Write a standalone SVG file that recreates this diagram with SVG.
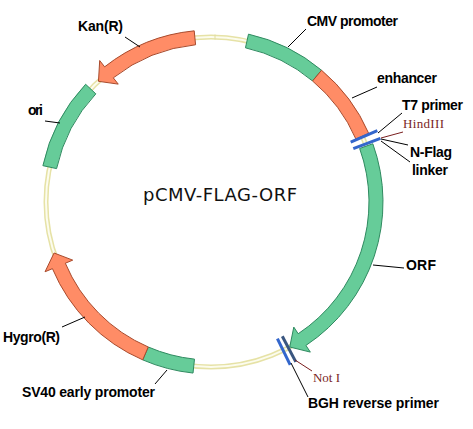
<svg xmlns="http://www.w3.org/2000/svg" width="473" height="429" viewBox="0 0 473 429">
<style>
.lbl{font-family:"Liberation Sans",Arial,sans-serif;font-size:14px;font-weight:bold;fill:#000}
.site{font-family:"Liberation Serif","Times New Roman",serif;font-size:13px;fill:#7a1f1f}
.title{font-family:"DejaVu Sans",Verdana,sans-serif;font-size:18px;fill:#111}
.green{fill:#66cc99;stroke:#2f8a60;stroke-width:1}
.orange{fill:#ff8c66;stroke:#a84a2c;stroke-width:1}
.lead{stroke:#000;stroke-width:1;fill:none}
.leadr{stroke:#7a1f1f;stroke-width:1;fill:none}
.bar{stroke:#3366cc;stroke-width:3;stroke-linecap:butt}
.bardark{stroke:#3a5680;stroke-width:3;stroke-linecap:butt}
</style>
<rect width="473" height="429" fill="#fff"/>
<g id="backbone">
<circle cx="211" cy="202" r="165" fill="none" stroke="#e6e2a6" stroke-width="5"/>
<circle cx="211" cy="202" r="165" fill="none" stroke="#fcfcee" stroke-width="2"/>
<line x1="215" y1="34.5" x2="215" y2="39.5" stroke="#e0dca0" stroke-width="1"/>
</g>
<g id="cmv-promoter">
<path class="green" d="M248.51 34.15 A172 172 0 0 1 321.56 70.24 L312.56 80.97 A158 158 0 0 0 245.46 47.81 Z"/>
</g>
<g id="enhancer">
<path class="orange" d="M321.56 70.24 A172 172 0 0 1 368.74 133.42 L355.90 139.00 A158 158 0 0 0 312.56 80.97 Z"/>
</g>
<g id="orf">
<path class="green" d="M372.83 143.74 A172 172 0 0 1 305.93 345.43 L310.34 352.10 L289.74 347.0 L293.79 327.09 L298.20 333.76 A158 158 0 0 0 359.66 148.49 Z"/>
</g>
<g id="sv40">
<path class="green" d="M193.02 373.05 A172 172 0 0 1 142.70 359.86 L148.26 347.01 A158 158 0 0 0 194.49 359.13 Z"/>
</g>
<g id="hygro">
<path class="orange" d="M142.70 359.86 A172 172 0 0 1 52.43 268.65 L45.06 271.75 L54.07 252.99 L72.71 260.13 L65.34 263.23 A158 158 0 0 0 148.26 347.01 Z"/>
</g>
<g id="ori">
<path class="green" d="M42.89 165.66 A172 172 0 0 1 85.61 84.27 L95.82 93.85 A158 158 0 0 0 56.57 168.61 Z"/>
</g>
<g id="kan">
<path class="orange" d="M194.21 30.83 A172 172 0 0 0 104.64 66.83 L99.69 60.54 L98.47 81.32 L118.24 84.11 L113.29 77.83 A158 158 0 0 1 195.58 44.76 Z"/>
</g>
<g id="t7-primer">
<line class="bar" x1="350.70" y1="142.13" x2="377.36" y2="130.70"/>
</g>
<g id="nflag-linker">
<line class="bar" x1="353.29" y1="148.53" x2="380.43" y2="138.32"/>
</g>
<g id="noti">
<line class="bardark" x1="282.3" y1="336.2" x2="295.8" y2="361.9"/>
</g>
<g id="bgh">
<line class="bar" x1="277.4" y1="338.7" x2="290.2" y2="364.8"/>
</g>
<g id="connectors">
<line class="lead" x1="125" y1="37" x2="140" y2="47"/>
<line class="lead" x1="306" y1="29" x2="288" y2="47"/>
<line class="lead" x1="377" y1="87" x2="352" y2="98"/>
<line class="lead" x1="402" y1="113" x2="378" y2="133"/>
<line class="leadr" x1="403" y1="132" x2="381" y2="138"/>
<line class="lead" x1="408" y1="145" x2="381" y2="139"/>
<line class="lead" x1="410" y1="162" x2="381" y2="141"/>
<line class="lead" x1="373" y1="265" x2="404" y2="268"/>
<line class="leadr" x1="295" y1="360" x2="312" y2="371"/>
<line class="lead" x1="291" y1="363" x2="308" y2="397"/>
<line class="lead" x1="167" y1="370" x2="155" y2="384"/>
<line class="lead" x1="62" y1="327" x2="85" y2="317"/>
<line class="lead" x1="45" y1="121" x2="60" y2="123"/>
</g>
<g id="labels">
<text class="lbl" x="78" y="31" textLength="45">Kan(R)</text>
<text class="lbl" x="307" y="26" textLength="91">CMV promoter</text>
<text class="lbl" x="377" y="83" textLength="60">enhancer</text>
<text class="lbl" x="402" y="110" textLength="61">T7 primer</text>
<text class="site" x="403" y="128" textLength="41">HindIII</text>
<text class="lbl" x="410" y="157" textLength="42">N-Flag</text>
<text class="lbl" x="412" y="175" textLength="36">linker</text>
<text class="lbl" x="406" y="270" textLength="30">ORF</text>
<text class="site" x="313" y="382" textLength="27">Not I</text>
<text class="lbl" x="308" y="408" textLength="131">BGH reverse primer</text>
<text class="lbl" x="22" y="397" textLength="133">SV40 early promoter</text>
<text class="lbl" x="3" y="342" textLength="57">Hygro(R)</text>
<text class="lbl" x="28" y="115" textLength="15">ori</text>
<text class="title" x="143" y="201" textLength="154">pCMV-FLAG-ORF</text>
</g>
</svg>
